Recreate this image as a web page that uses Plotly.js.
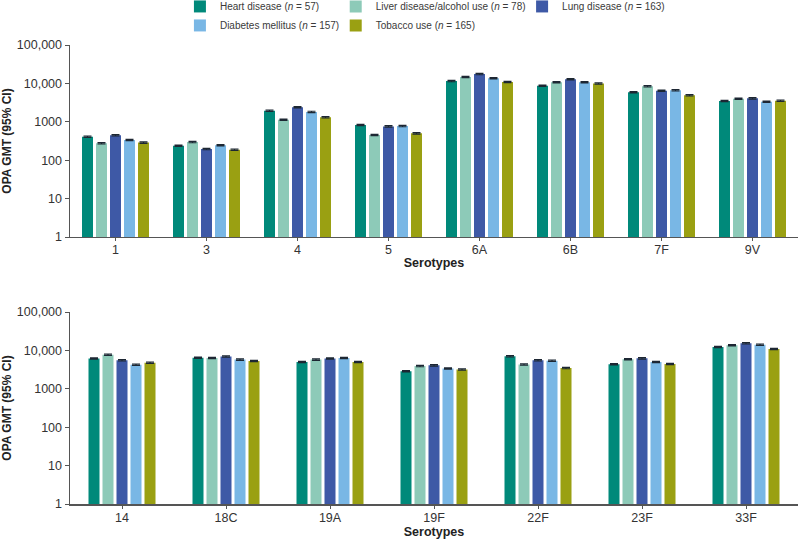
<!DOCTYPE html>
<html>
<head>
<meta charset="utf-8">
<script src="https://cdn.plot.ly/plotly-3.0.1.min.js"></script>
<style>html,body{margin:0;padding:0;background:#fff}#chart{width:800px;height:542px}</style>
</head>
<body>
<div id="chart"></div>
<script>
// ---- data ----
const categoriesTop = ['1', '3', '4', '5', '6A', '6B', '7F', '9V'];
const categoriesBottom = ['14', '18C', '19A', '19F', '22F', '23F', '33F'];
const seriesNames = [
  'Heart disease (<i>n</i> = 57)',
  'Liver disease/alcohol use (<i>n</i> = 78)',
  'Lung disease (<i>n</i> = 163)',
  'Diabetes mellitus (<i>n</i> = 157)',
  'Tobacco use (<i>n</i> = 165)'
];
const heartTop    = [410, 238, 1950, 825, 11500, 8700, 5870, 3480];
const liverTop    = [275, 297, 1130, 455, 14700, 10700, 8400, 4000];
const lungTop     = [445, 195, 2400, 760, 17500, 12800, 6450, 4080];
const diabetesTop = [335, 245, 1810, 775, 13600, 10700, 6600, 3330];
const tobaccoTop  = [287, 188, 1310, 500, 10900, 10000, 4900, 3550];
const heartBottom    = [6150, 6460, 4990, 2870, 7020, 4350, 12300];
const liverBottom    = [7760, 6340, 5760, 3910, 4270, 5870, 13600];
const lungBottom     = [5520, 6900, 6150, 4080, 5520, 6200, 15300];
const diabetesBottom = [4260, 5760, 6340, 3370, 5410, 5000, 14100];
const tobaccoBottom  = [4800, 5300, 4990, 3170, 3470, 4440, 10900];
const yTickVals = [1, 10, 100, 1000, 10000, 100000];
const yTickText = ['1', '10', '100', '1000', '10,000', '100,000'];

// ---- styling ----
const colors = ['#00897A', '#8DCAB8', '#3E59A6', '#79B7E5', '#9AA012'];
const legendOf = ['legend', 'legend2', 'legend3', 'legend', 'legend2'];
const topSeries = [heartTop, liverTop, lungTop, diabetesTop, tobaccoTop];
const bottomSeries = [heartBottom, liverBottom, lungBottom, diabetesBottom, tobaccoBottom];

const plotWidthPx = 728;
const barPx = 11, pitchPx = 14;

function makeTraces(cats, seriesList, xa, ya, showLegend) {
  const catPx = plotWidthPx / cats.length;
  const w = barPx / catPx, p = pitchPx / catPx;
  const total = 4 * p + w;
  return seriesList.map((vals, i) => ({
    type: 'bar',
    name: seriesNames[i],
    legend: legendOf[i],
    showlegend: showLegend,
    x: cats,
    y: vals,
    xaxis: xa, yaxis: ya,
    width: w,
    offset: -total / 2 + i * p,
    marker: {color: colors[i], line: {width: 0}},
    error_y: {type: 'percent', value: 4, color: '#1d2733', thickness: 1.2, width: 4},
    hoverinfo: 'x+y'
  }));
}

const traces = [
  ...makeTraces(categoriesTop, topSeries, 'x', 'y', true),
  ...makeTraces(categoriesBottom, bottomSeries, 'x2', 'y2', false)
];

const tickFont = {family: 'Liberation Sans Narrow, Liberation Sans, Arial, sans-serif', size: 12.5, color: '#333'};
const yTickFont = {family: 'Liberation Sans, Arial, sans-serif', size: 12.5, color: '#333'};
const xTitle = {text: '<b>Serotypes</b>', font: {family: 'Liberation Sans, Arial, sans-serif', size: 12.5, color: '#222'}, standoff: 1};
const yTitle = {text: '<b>OPA GMT (95% CI)</b>', font: {family: 'Liberation Sans, Arial, sans-serif', size: 12, color: '#222'}, standoff: 6};

function xAxis(anchor) {
  return {
    type: 'category', domain: [0, 1], anchor: anchor,
    showline: true, linecolor: '#555', linewidth: 1.5,
    ticks: 'outside', ticklen: 3, tickcolor: '#555', tickwidth: 1,
    ticklabelstandoff: -2,
    showgrid: false, zeroline: false, tickfont: tickFont, title: xTitle,
    automargin: false
  };
}
function yAxis(domain, anchor) {
  return {
    type: 'log', domain: domain, anchor: anchor, range: [0, 5],
    tickvals: yTickVals, ticktext: yTickText,
    showline: true, linecolor: '#555', linewidth: 1.5,
    ticks: 'outside', ticklen: 4, tickcolor: '#555', tickwidth: 1,
    showgrid: false, zeroline: false, tickfont: yTickFont, title: yTitle,
    automargin: false
  };
}

function legendAt(x) {
  return {
    orientation: 'v', x: x, xanchor: 'left', y: 1.1156, yanchor: 'top',
    font: {family: 'Liberation Sans, Arial, sans-serif', size: 10, color: '#3a3a3a'},
    itemclick: false, tracegroupgap: 0, bgcolor: 'rgba(0,0,0,0)', borderwidth: 0
  };
}

const layout = {
  width: 800, height: 542,
  margin: {l: 70, r: 2, t: 45, b: 38, autoexpand: false},
  paper_bgcolor: '#fff', plot_bgcolor: '#fff',
  barmode: 'overlay',
  showlegend: true,
  legend: legendAt(0.151),
  legend2: legendAt(0.365),
  legend3: legendAt(0.621),
  xaxis: xAxis('y'),
  yaxis: yAxis([0.5817, 1], 'x'),
  xaxis2: xAxis('y2'),
  yaxis2: yAxis([0, 0.4183], 'x2')
};

Plotly.newPlot('chart', traces, layout, {displayModeBar: false, staticPlot: true});
</script>
</body>
</html>
